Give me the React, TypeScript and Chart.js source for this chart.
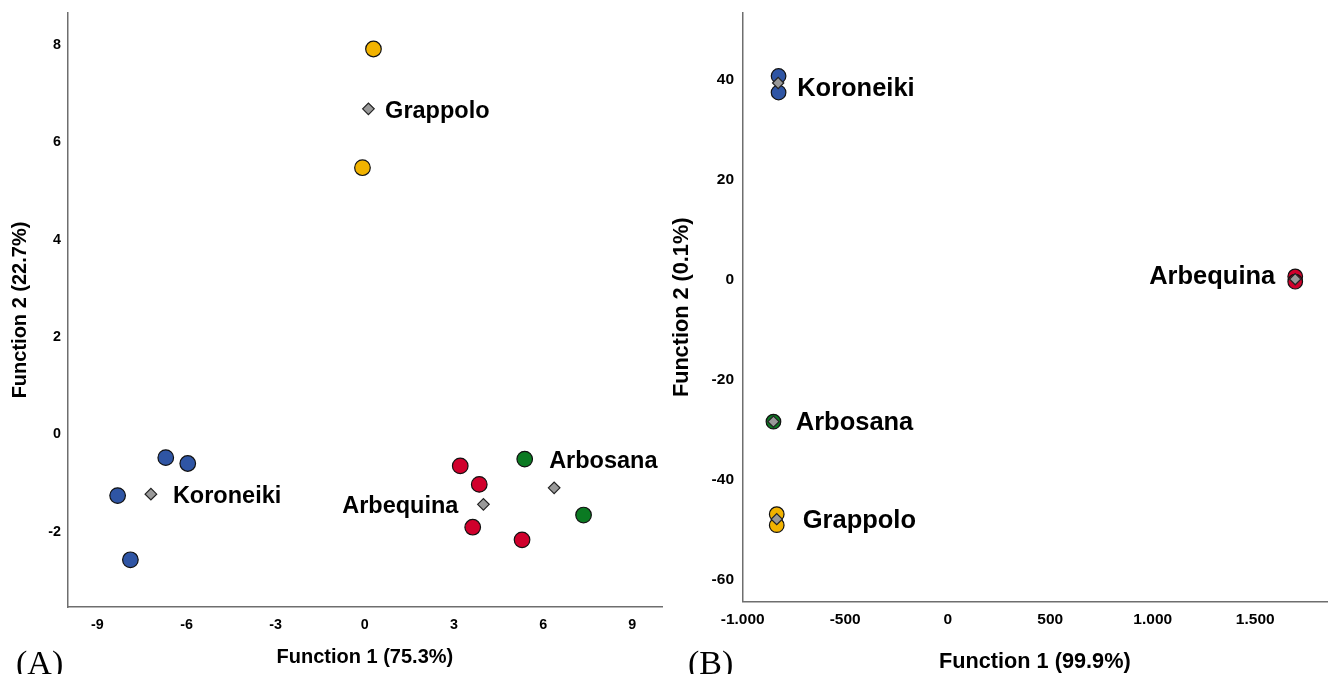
import React, { useEffect, useRef } from "react";
import { Chart, registerables } from "chart.js";

Chart.register(...registerables);

// ---- Cultivars and their marker colours ----
const cultivars = ["Koroneiki", "Arbequina", "Arbosana", "Grappolo"];
const cultivarColors = ["#2f55a4", "#d0002c", "#0b7a22", "#f2b300"];

// ---- Panel (A): discriminant scores, Function 1 (75.3%) vs Function 2 (22.7%) ----
const koroneikiA = [
  { x: -6.7, y: -0.5 },
  { x: -5.96, y: -0.62 },
  { x: -8.32, y: -1.28 },
  { x: -7.89, y: -2.6 },
];
const arbequinaA = [
  { x: 3.21, y: -0.67 },
  { x: 3.85, y: -1.05 },
  { x: 3.63, y: -1.93 },
  { x: 5.29, y: -2.19 },
];
const arbosanaA = [
  { x: 5.38, y: -0.53 },
  { x: 7.36, y: -1.68 },
];
const grappoloA = [
  { x: 0.29, y: 7.9 },
  { x: -0.08, y: 5.46 },
];
// group centroids, same order as cultivars
const centroidsA = [
  { x: -7.2, y: -1.25 },
  { x: 3.99, y: -1.46 },
  { x: 6.37, y: -1.12 },
  { x: 0.12, y: 6.67 },
];
const xTicksA = [-9, -6, -3, 0, 3, 6, 9];
const yTicksA = [-2, 0, 2, 4, 6, 8];

// ---- Panel (B): discriminant scores, Function 1 (99.9%) vs Function 2 (0.1%) ----
const koroneikiB = [
  { x: -825, y: 40.4 },
  { x: -825, y: 37.1 },
];
const arbequinaB = [
  { x: 1695, y: 0.34 },
  { x: 1695, y: -0.72 },
];
const arbosanaB = [{ x: -850, y: -28.7 }];
const grappoloB = [
  { x: -834, y: -47.2 },
  { x: -834, y: -49.4 },
];
const centroidsB = [
  { x: -827, y: 39.0 },
  { x: 1695, y: -0.22 },
  { x: -850, y: -28.7 },
  { x: -834, y: -48.2 },
];
const xTicksB = [-1000, -500, 0, 500, 1000, 1500];
const yTicksB = [-60, -40, -20, 0, 20, 40];

const SANS = '"Liberation Sans", Arial, Helvetica, sans-serif';
const SERIF = '"Liberation Serif", "Times New Roman", serif';

// thousands separated with a dot, e.g. -1000 -> "-1.000"
const fmtDots = (v: number) => {
  const s = Math.abs(v)
    .toString()
    .replace(/\B(?=(\d{3})+(?!\d))/g, ".");
  return (v < 0 ? "-" : "") + s;
};

// draws the cultivar names next to their centroids and the panel tag
const groupLabels = {
  id: "groupLabels",
  afterDatasetsDraw(chart: any, _args: any, opts: any) {
    const { ctx } = chart;
    const xs = chart.scales.x;
    const ys = chart.scales.y;
    ctx.save();
    ctx.fillStyle = "#000";
    ctx.textBaseline = "alphabetic";
    ctx.font = `bold ${opts.size}px ${SANS}`;
    opts.items.forEach((it: any) => {
      ctx.textAlign = it.align;
      ctx.fillText(
        it.text,
        xs.getPixelForValue(it.x) + it.dx,
        ys.getPixelForValue(it.y) + it.dy
      );
    });
    ctx.font = `${opts.tagSize}px ${SERIF}`;
    ctx.textAlign = "left";
    ctx.fillText(opts.tag, opts.tagX, opts.tagY);
    ctx.restore();
  },
};

type Panel = {
  groups: { x: number; y: number }[][];
  centroids: { x: number; y: number }[];
  labelPlacement: { dx: number; dy: number; align: string }[];
  xMin: number;
  xMax: number;
  yMin: number;
  yMax: number;
  xTicks: number[];
  yTicks: number[];
  xTitle: string;
  yTitle: string;
  tag: string;
  tagX: number;
  scale: number;
  pointRadius: number;
  diamondRadius: number;
  yAxisWidth: number;
  xAxisHeight: number;
  padRight: number;
  xTickPad: number;
  yTickPad: number;
  yTickShift: number;
  xTitlePad: number;
  yTitlePad: number;
};

function buildConfig(p: Panel): any {
  const tickFont = { family: SANS, size: 14.3 * p.scale, weight: "bold" as const };
  const titleFont = { family: SANS, size: 20 * p.scale, weight: "bold" as const, lineHeight: 1 };
  const datasets: any[] = p.groups.map((g, i) => ({
    label: cultivars[i],
    data: g,
    order: 1,
    pointStyle: "circle",
    pointRadius: p.pointRadius,
    backgroundColor: cultivarColors[i],
    borderColor: "#111111",
    borderWidth: 1.2,
  }));
  // centroids sit on top of the sample circles
  datasets.push({
    label: "Centroids",
    data: p.centroids,
    order: 0,
    pointStyle: "rectRot",
    pointRadius: p.diamondRadius,
    backgroundColor: "#999999",
    borderColor: "#222222",
    borderWidth: 1.2,
  });
  return {
    type: "scatter",
    data: { datasets },
    plugins: [groupLabels],
    options: {
      animation: false,
      responsive: false,
      events: [],
      layout: {
        autoPadding: false,
        padding: { top: 13, right: p.padRight, left: 0, bottom: 0 },
      },
      plugins: {
        legend: { display: false },
        tooltip: { enabled: false },
        groupLabels: {
          size: 23.5 * p.scale,
          items: p.centroids.map((c, i) => ({
            text: cultivars[i],
            x: c.x,
            y: c.y,
            ...p.labelPlacement[i],
          })),
          tag: p.tag,
          tagSize: 34,
          tagX: p.tagX,
          tagY: 674,
        },
      },
      scales: {
        x: {
          type: "linear",
          min: p.xMin,
          max: p.xMax,
          grid: { display: false, drawTicks: false, tickLength: 0 },
          border: { display: true, color: "#6e6e6e", width: 1.5 },
          afterBuildTicks: (s: any) => {
            s.ticks = p.xTicks.map((v) => ({ value: v }));
          },
          afterFit: (s: any) => {
            s.height = p.xAxisHeight;
            s.paddingLeft = 0;
            s.paddingRight = 0;
          },
          ticks: {
            font: tickFont,
            color: "#000",
            padding: p.xTickPad,
            maxRotation: 0,
            autoSkip: false,
            callback: (v: any) => fmtDots(Number(v)),
          },
          title: {
            display: true,
            text: p.xTitle,
            color: "#000",
            font: titleFont,
            padding: { top: 0, bottom: p.xTitlePad },
          },
        },
        y: {
          type: "linear",
          min: p.yMin,
          max: p.yMax,
          grid: { display: false, drawTicks: false, tickLength: 0 },
          border: { display: true, color: "#6e6e6e", width: 1.5 },
          afterBuildTicks: (s: any) => {
            s.ticks = p.yTicks.map((v) => ({ value: v }));
          },
          afterFit: (s: any) => {
            s.width = p.yAxisWidth;
            s.paddingTop = 0;
            s.paddingBottom = 0;
          },
          ticks: {
            font: tickFont,
            color: "#000",
            padding: p.yTickPad,
            labelOffset: p.yTickShift,
            autoSkip: false,
            callback: (v: any) => fmtDots(Number(v)),
          },
          title: {
            display: true,
            text: p.yTitle,
            color: "#000",
            font: titleFont,
            padding: { top: p.yTitlePad, bottom: 0 },
          },
        },
      },
    },
  };
}

const panelA: Panel = {
  groups: [koroneikiA, arbequinaA, arbosanaA, grappoloA],
  centroids: centroidsA,
  labelPlacement: [
    { dx: 22, dy: 8.4, align: "left" },
    { dx: -25, dy: 8.4, align: "right" },
    { dx: -5, dy: -20, align: "left" },
    { dx: 16.7, dy: 9.6, align: "left" },
  ],
  xMin: -10,
  xMax: 10,
  yMin: -3.57,
  yMax: 8.64,
  xTicks: xTicksA,
  yTicks: yTicksA,
  xTitle: "Function 1 (75.3%)",
  yTitle: "Function 2 (22.7%)",
  tag: "(A)",
  tagX: 16,
  scale: 1,
  pointRadius: 7.8,
  diamondRadius: 5.8,
  yAxisWidth: 67.7,
  xAxisHeight: 67,
  padRight: 2,
  xTickPad: 9,
  yTickPad: 6.7,
  yTickShift: 1,
  xTitlePad: 6.5,
  yTitlePad: 10,
};

const panelB: Panel = {
  groups: [koroneikiB, arbequinaB, arbosanaB, grappoloB],
  centroids: centroidsB,
  labelPlacement: [
    { dx: 19, dy: 13.4, align: "left" },
    { dx: -20, dy: 4.7, align: "right" },
    { dx: 22.3, dy: 8.3, align: "left" },
    { dx: 26, dy: 9, align: "left" },
  ],
  xMin: -1000,
  xMax: 1850,
  yMin: -64.7,
  yMax: 53,
  xTicks: xTicksB,
  yTicks: yTicksB,
  xTitle: "Function 1 (99.9%)",
  yTitle: "Function 2 (0.1%)",
  tag: "(B)",
  tagX: 24,
  scale: 1.085,
  pointRadius: 7.3,
  diamondRadius: 5.6,
  yAxisWidth: 78.7,
  xAxisHeight: 72.3,
  padRight: 1,
  xTickPad: 8.3,
  yTickPad: 8.7,
  yTickShift: 1.5,
  xTitlePad: 1.45,
  yTitlePad: 7.65,
};

function ScatterPanel({ panel, left }: { panel: Panel; left: number }) {
  const ref = useRef<HTMLCanvasElement | null>(null);
  useEffect(() => {
    if (!ref.current) return;
    const chart = new Chart(ref.current, buildConfig(panel));
    return () => chart.destroy();
  }, [panel]);
  return (
    <div style={{ position: "absolute", left, top: 0, width: 664, height: 674 }}>
      <canvas ref={ref} width={664} height={674} style={{ display: "block", width: 664, height: 674 }} />
    </div>
  );
}

export default function App() {
  return (
    <div
      style={{
        position: "fixed",
        left: 0,
        top: 0,
        width: 1328,
        height: 674,
        background: "#ffffff",
        overflow: "hidden",
      }}
    >
      <ScatterPanel panel={panelA} left={0} />
      <ScatterPanel panel={panelB} left={664} />
    </div>
  );
}
